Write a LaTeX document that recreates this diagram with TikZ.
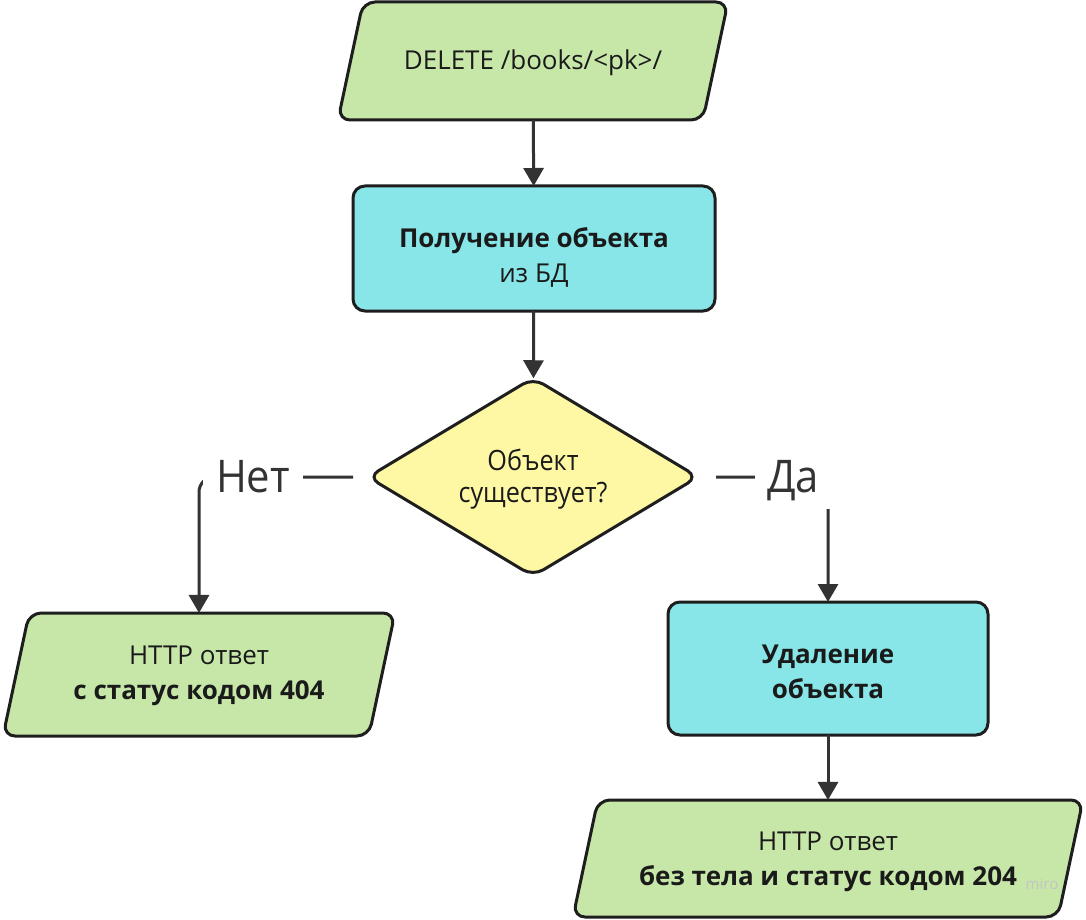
\documentclass[tikz,border=0pt]{standalone}
\usepackage{fontspec}
\setmainfont{Open Sans}
\newfontfamily\cond[FakeStretch=0.9]{Open Sans}
\newfontfamily\lblfont[FakeStretch=0.93]{Open Sans}
\usetikzlibrary{shapes.geometric,arrows.meta}
\definecolor{grn}{HTML}{C7E7A9}
\definecolor{cyn}{HTML}{88E5E8}
\definecolor{ylw}{HTML}{FEF8A4}
\definecolor{edge}{HTML}{1E1E1E}
\definecolor{arr}{HTML}{333333}
\definecolor{txt}{HTML}{1A1A1A}
\definecolor{wm}{HTML}{C4C4C4}
\begin{document}
\begin{tikzpicture}[x=1pt,y=-1pt,
  base/.style={draw=edge, line width=3pt, outer sep=0pt, inner sep=0pt},
  procbox/.style={base, rectangle, rounded corners=12pt, fill=cyn},
  iobox/.style={base, trapezium, trapezium left angle=78, trapezium right angle=102,
    trapezium stretches body=true, rounded corners=12pt, fill=grn},
  decbox/.style={base, diamond, rounded corners=12pt, fill=ylw},
  boxtext/.style={align=center, text=txt, inner sep=0pt, font=\fontsize{26}{35}\selectfont},
  dectext/.style={align=center, text=txt, inner sep=0pt, font=\cond\fontsize{28}{32}\selectfont},
  conn/.style={draw=arr, line width=3pt, -{Triangle[length=18pt,width=20pt]}},
  lbl/.style={fill=white, text=arr, font=\lblfont\fontsize{45}{45}\selectfont, inner sep=0pt}
]
\fill[white] (0,0) rectangle (1086,920);
\useasboundingbox (0,0) rectangle (1086,920);

% shapes
\node[iobox, minimum width=390pt] (req) at (533,61) {\rule{0pt}{118pt}};
\node[procbox, minimum width=362pt, minimum height=125pt] (get) at (534,248.5) {\phantom{X}};
\node[decbox, minimum width=330pt, minimum height=198pt] (dec) at (533,477) {\phantom{X}};
\node[iobox, minimum width=392pt] (nf) at (199,674.5) {\rule{0pt}{123pt}};
\node[procbox, minimum width=320pt, minimum height=133pt] (del) at (828,668.5) {\phantom{X}};
\node[iobox, minimum width=510pt] (ok) at (828,858.5) {\rule{0pt}{117pt}};

% texts
\node[boxtext] (reqT) at (533,63) {DELETE /books/<pk>/};
\node[boxtext] (getT) at (534,257) {\textbf{Получение объекта}\\из БД};
\node[dectext] (decT) at (533,479) {Объект\\существует?};
\node[boxtext] (nfT) at (199,676) {HTTP ответ\\\textbf{с статус кодом 404}};
\node[boxtext] (delT) at (828,671.5) {\textbf{Удаление}\\\textbf{объекта}};
\node[boxtext] (okT) at (828,862) {HTTP ответ\\\textbf{без тела и статус кодом 204}};

% connectors
\draw[conn] (req) -- (get);
\draw[conn] (get) -- (dec);
\draw[conn, rounded corners=15pt, shorten <=15pt] (dec.west) -| (nf.north);
\draw[conn, rounded corners=15pt, shorten <=18pt] (dec.east) -| (del.north);
\draw[conn] (del) -- (ok);

% connector labels
\node[lbl, minimum width=100pt, minimum height=44pt] (no) at (253,477) {Нет};
\node[lbl, minimum width=76pt, minimum height=56pt] (yes) at (793,481) {Да};

\node[text=wm, font=\fontsize{15}{15}\selectfont] (miro) at (1042,884) {miro};
\end{tikzpicture}
\end{document}
